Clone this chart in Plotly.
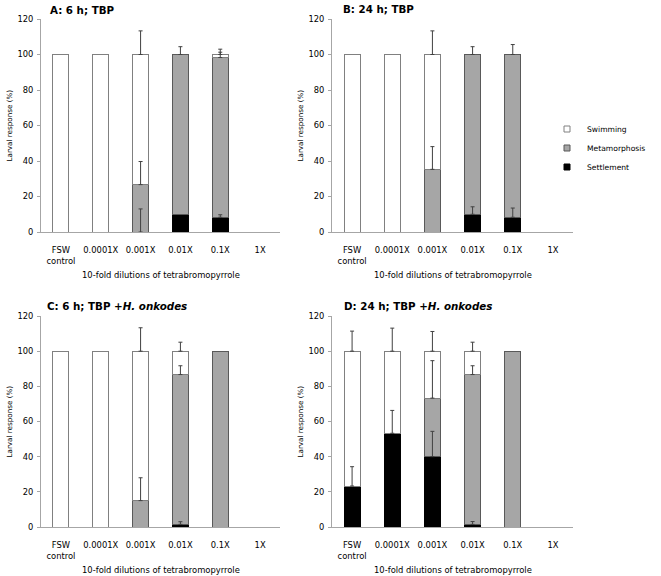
import plotly.graph_objects as go

# categories on the x axis
cats = ["FSW<br>control", "0.0001X", "0.001X", "0.01X", "0.1X", "1X"]

# segment heights (%) per panel: settlement (bottom), metamorphosis, swimming (top)
a_settle = [0, 0, 0, 10, 8.3, 0]
a_meta = [0, 0, 26.7, 90, 90, 0]
a_swim = [100, 100, 73.3, 0, 1.7, 0]
a_err_settle = [None, None, 13.0, None, 1.4, None]
a_err_meta = [None, None, 13.0, 4.4, 3.0, None]
a_err_swim = [None, None, 13.3, None, 3.0, None]

b_settle = [0, 0, 0, 10, 8.3, 0]
b_meta = [0, 0, 35.3, 90, 91.7, 0]
b_swim = [100, 100, 64.7, 0, 0, 0]
b_err_settle = [None, None, None, 4.2, 5.2, None]
b_err_meta = [None, None, 12.8, 4.4, 5.6, None]
b_err_swim = [None, None, 13.3, None, None, None]

c_settle = [0, 0, 0, 1.5, 0, 0]
c_meta = [0, 0, 15, 85.2, 100, 0]
c_swim = [100, 100, 85, 13.3, 0, 0]
c_err_settle = [None, None, None, 1.5, None, None]
c_err_meta = [None, None, 13.0, 5.0, None, None]
c_err_swim = [None, None, 13.3, 5.1, None, None]

d_settle = [23.3, 53.3, 40, 1.5, 0, 0]
d_meta = [0, 0, 33.3, 85.2, 100, 0]
d_swim = [76.7, 46.7, 26.7, 13.3, 0, 0]
d_err_settle = [11.0, 13.0, 14.4, 1.6, None, None]
d_err_meta = [None, None, 21.3, 5.0, None, None]
d_err_swim = [11.4, 13.1, 11.2, 5.1, None, None]

titles = ["<b>A: 6 h; TBP</b>", "<b>B: 24 h; TBP</b>",
          "<b>C: 6 h; TBP +<i>H. onkodes</i></b>",
          "<b>D: 24 h; TBP +<i>H. onkodes</i></b>"]

FONT = "DejaVu Sans"
W, H = 661, 576

panels = [
    (a_settle, a_meta, a_swim, a_err_settle, a_err_meta, a_err_swim),
    (b_settle, b_meta, b_swim, b_err_settle, b_err_meta, b_err_swim),
    (c_settle, c_meta, c_swim, c_err_settle, c_err_meta, c_err_swim),
    (d_settle, d_meta, d_swim, d_err_settle, d_err_meta, d_err_swim),
]

# plot areas in pixels: x0, x1, ytop(120), ybottom(0)
boxes = [(41, 280, 19, 232), (332, 573, 19, 232),
         (41, 280, 316, 527), (332, 573, 316, 527)]
title_pos = [(48, 10), (341, 9), (45, 306), (342, 306)]

styles = {
    "Settlement": dict(color="black", line=dict(color="black", width=1)),
    "Metamorphosis": dict(color="#a6a6a6", line=dict(color="#595959", width=1)),
    "Swimming": dict(color="white", line=dict(color="#808080", width=1)),
}

fig = go.Figure()
layout = {}
annotations = []

for i, (settle, meta, swim, es, em, ew) in enumerate(panels):
    n = "" if i == 0 else str(i + 1)
    xa, ya = "x" + n, "y" + n
    for name, vals in (("Settlement", settle), ("Metamorphosis", meta), ("Swimming", swim)):
        fig.add_trace(go.Bar(x=cats, y=[v if v else None for v in vals], name=name,
                             marker=styles[name], xaxis=xa, yaxis=ya, showlegend=False,
                             hoverinfo="y+name"))
    # error bars at top of each stacked segment (drawn above the bars)
    tops = []
    run = [0] * len(cats)
    for vals, errs in ((settle, es), (meta, em), (swim, ew)):
        run = [r + v for r, v in zip(run, vals)]
        for k, e in enumerate(errs):
            if e is not None:
                tops.append((cats[k], run[k], e))
    fig.add_trace(go.Scatter(
        x=[t[0] for t in tops], y=[t[1] for t in tops], mode="markers",
        marker=dict(size=1, color="rgba(0,0,0,0)"),
        error_y=dict(type="data", symmetric=False, array=[t[2] for t in tops],
                     arrayminus=[0] * len(tops), color="#404040", thickness=1, width=2),
        xaxis=xa, yaxis=ya, showlegend=False, hoverinfo="skip"))

    x0, x1, yt, yb = boxes[i]
    layout["xaxis" + n] = dict(
        domain=[x0 / W, x1 / W], anchor=ya, type="category", categoryorder="array",
        categoryarray=cats, showline=True, linecolor="#a6a6a6", linewidth=1,
        ticks="", showgrid=False, automargin=False,
        tickfont=dict(family=FONT, size=8.4, color="black"), ticklabelstandoff=10)
    layout["yaxis" + n] = dict(
        domain=[1 - yb / H, 1 - yt / H], anchor=xa, range=[0, 120], dtick=20,
        showline=True, linecolor="#a6a6a6", linewidth=1, ticks="outside", ticklen=3,
        tickcolor="#a6a6a6", showgrid=False, zeroline=False, automargin=False,
        ticklabelstandoff=2, tickfont=dict(family=FONT, size=8.3, color="black"))
    tx, ty = title_pos[i]
    annotations.append(dict(text=titles[i], x=tx / W, y=1 - ty / H, xref="paper", yref="paper",
                            xanchor="left", yanchor="middle", showarrow=False,
                            font=dict(family=FONT, size=10.3, color="black")))
    annotations.append(dict(text="Larval response (%)", x=(9 if i % 2 == 0 else 300) / W,
                            y=1 - (yt + yb) / 2 / H, xref="paper", yref="paper",
                            xanchor="center", yanchor="middle", textangle=-90, showarrow=False,
                            font=dict(family=FONT, size=7.2, color="black")))
    annotations.append(dict(text="10-fold dilutions of tetrabromopyrrole",
                            x=(x0 + x1) / 2 / W, y=1 - (yb + 43) / H, xref="paper", yref="paper",
                            xanchor="center", yanchor="middle", showarrow=False,
                            font=dict(family=FONT, size=8.4, color="black")))

# legend entries
for name in ("Swimming", "Metamorphosis", "Settlement"):
    st = styles[name]
    fig.add_trace(go.Scatter(x=[None], y=[None], mode="markers", name=name,
                             marker=dict(symbol="square", size=6, color=st["color"],
                                         line=dict(color=st["line"]["color"], width=1)),
                             xaxis="x2", yaxis="y2", showlegend=True))

fig.update_layout(
    **layout,
    annotations=annotations,
    barmode="stack", bargap=0.6,
    width=W, height=H, margin=dict(l=0, r=0, t=0, b=0),
    paper_bgcolor="white", plot_bgcolor="white",
    font=dict(family=FONT, size=8.4, color="black"),
    legend=dict(x=547 / W, y=1 - 148 / H, xanchor="left", yanchor="middle",
                traceorder="normal", tracegroupgap=0,
                font=dict(family=FONT, size=7.6, color="black"), bgcolor="rgba(0,0,0,0)"),
)

fig.write_html("out.html", config={"displayModeBar": False},
               post_script="document.body.style.margin = '0';")
